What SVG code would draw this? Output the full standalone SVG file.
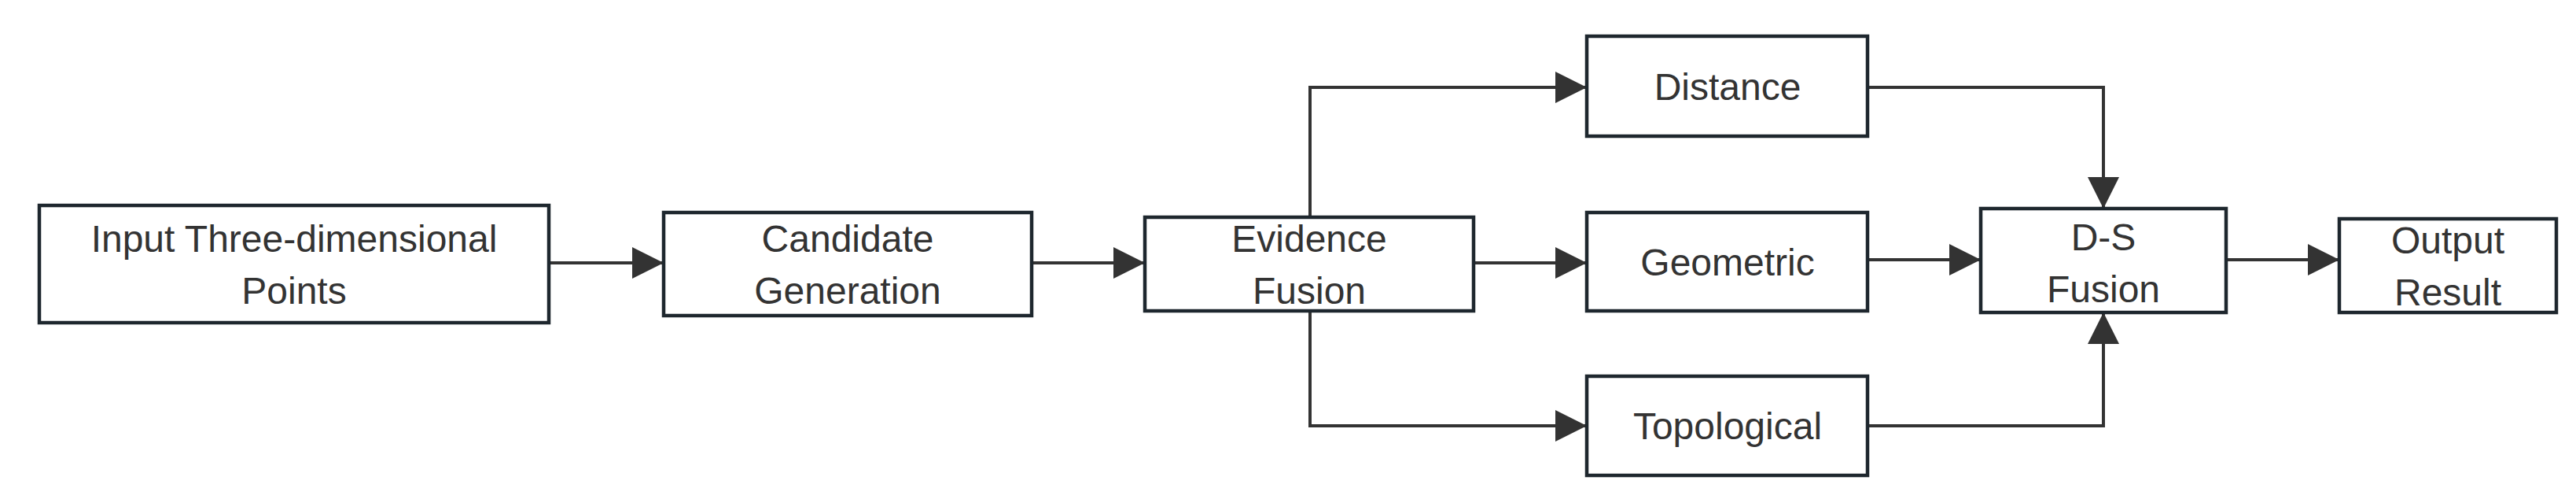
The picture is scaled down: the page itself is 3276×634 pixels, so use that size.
<svg xmlns="http://www.w3.org/2000/svg" width="3276" height="634" viewBox="0 0 3276 634">
<style>
.n rect{fill:#fff;stroke:#1e272e;stroke-width:4.5}
.n text{font-family:"Liberation Sans",Arial,sans-serif;font-size:48px;fill:#333;text-anchor:middle}
.c path{fill:none;stroke:#333;stroke-width:4}
</style>
<defs><marker id="a" viewBox="0 0 10 10" refX="10" refY="5" markerWidth="10" markerHeight="10" markerUnits="userSpaceOnUse" orient="auto"><path d="M0,0L10,5L0,10z" fill="#333"/></marker>
<marker id="b" viewBox="0 0 10 10" refX="10" refY="5" markerWidth="40" markerHeight="40" markerUnits="userSpaceOnUse" orient="auto"><path d="M0,0L10,5L0,10z" fill="#333"/></marker></defs>
<g class="c">
<path d="M698,334H844" marker-end="url(#b)"/>
<path d="M1312,334H1456" marker-end="url(#b)"/>
<path d="M1666,276V111H2018" marker-end="url(#b)"/>
<path d="M1874,334H2018" marker-end="url(#b)"/>
<path d="M1666,395V541H2018" marker-end="url(#b)"/>
<path d="M2375,111H2675V265" marker-end="url(#b)"/>
<path d="M2375,330H2519" marker-end="url(#b)"/>
<path d="M2375,541H2675V397" marker-end="url(#b)"/>
<path d="M2831,330H2975" marker-end="url(#b)"/>
</g>
<g id="input" class="n"><rect x="50" y="261" width="648" height="149"/><text x="374" y="320">Input Three-dimensional</text><text x="374" y="386">Points</text></g>
<g id="candidate" class="n"><rect x="844" y="270" width="468" height="131"/><text x="1078" y="320">Candidate</text><text x="1078" y="386">Generation</text></g>
<g id="evidence" class="n"><rect x="1456" y="276" width="418" height="119"/><text x="1665" y="320">Evidence</text><text x="1665" y="386">Fusion</text></g>
<g id="distance" class="n"><rect x="2018" y="46" width="357" height="127"/><text x="2197" y="127">Distance</text></g>
<g id="geometric" class="n"><rect x="2018" y="270" width="357" height="125"/><text x="2197" y="350">Geometric</text></g>
<g id="topological" class="n"><rect x="2018" y="478" width="357" height="126"/><text x="2197" y="558">Topological</text></g>
<g id="ds" class="n"><rect x="2519" y="265" width="312" height="132"/><text x="2675" y="318">D-S</text><text x="2675" y="384">Fusion</text></g>
<g id="output" class="n"><rect x="2975" y="278" width="276" height="119"/><text x="3113" y="322">Output</text><text x="3113" y="388">Result</text></g>
</svg>
